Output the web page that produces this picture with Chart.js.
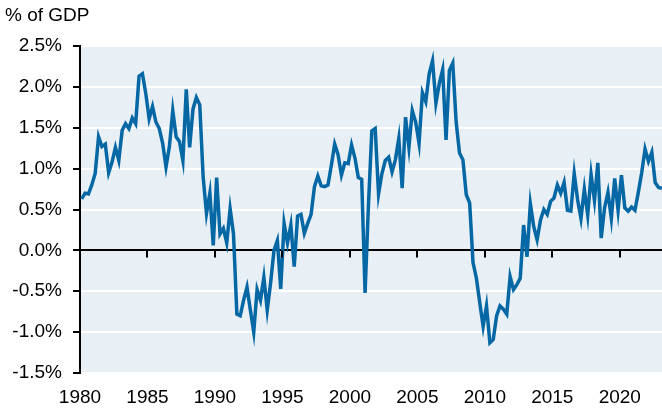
<!DOCTYPE html>
<html>
<head>
<meta charset="utf-8">
<script src="https://cdn.jsdelivr.net/npm/chart.js@4/dist/chart.umd.min.js"></script>
<style>
  html, body { margin: 0; padding: 0; background: #fff; }
  canvas { display: block; }
</style>
</head>
<body>
<canvas id="chart" width="662" height="409"></canvas>
<script>
// quarterly values, % of GDP, 1980Q1 onwards
const values = [
  0.63, 0.70, 0.69, 0.80, 0.94, 1.39, 1.27, 1.30, 0.95, 1.08, 1.26, 1.10,
  1.47, 1.55, 1.49, 1.62, 1.55, 2.13, 2.16, 1.92, 1.61, 1.76, 1.57, 1.49,
  1.31, 1.02, 1.27, 1.71, 1.39, 1.33, 1.10, 1.97, 1.26, 1.73, 1.87,
  1.78, 0.90, 0.45, 0.70, 0.06, 0.89, 0.20, 0.27, 0.09, 0.51, 0.20, -0.78,
  -0.80, -0.61, -0.45, -0.73, -1.00, -0.48, -0.61, -0.33, -0.73, -0.40, 0.00,
  0.12, -0.47, 0.33, 0.09, 0.31, -0.20, 0.42, 0.44, 0.21, 0.33, 0.44,
  0.78, 0.91, 0.79, 0.78, 0.80, 1.04, 1.30, 1.17, 0.92, 1.07, 1.06, 1.29,
  1.13, 0.89, 0.87, -0.52, 0.55, 1.46, 1.49, 0.69, 0.94, 1.10, 1.14, 0.96,
  1.11, 1.37, 0.76, 1.63, 1.26, 1.71, 1.57, 1.31, 1.93, 1.82,
  2.16, 2.32, 1.80, 2.04, 2.21, 1.35, 2.20, 2.29, 1.57, 1.19, 1.11, 0.68,
  0.58, -0.15, -0.34, -0.64, -0.93, -0.68, -1.13, -1.09, -0.80, -0.68, -0.72,
  -0.78, -0.32, -0.48, -0.42, -0.34, 0.31, -0.08, 0.57, 0.29, 0.13, 0.37, 0.50,
  0.44, 0.60, 0.64, 0.80, 0.70, 0.83, 0.49, 0.48, 0.94, 0.62, 0.39, 0.75,
  0.43, 0.93, 0.61, 1.07, 0.15, 0.52, 0.71, 0.39, 0.88, 0.49, 0.92, 0.52,
  0.48, 0.53, 0.49, 0.71, 0.95, 1.24, 1.09, 1.20, 0.83, 0.77, 0.76
]

// one entry per quarter, placed mid-quarter
const quarters = values.map((v, i) => 1980 + Math.floor(i / 4) + (i % 4) * 0.25 + 0.125)

const xTicks = [1980, 1985, 1990, 1995, 2000, 2005, 2010, 2015, 2020]
const yTicks = [-1.5, -1.0, -0.5, 0.0, 0.5, 1.0, 1.5, 2.0, 2.5]
const unitLabel = '% of GDP'

const FONT = "'Liberation Sans', Arial, sans-serif"

const plotBackground = {
  id: 'plotBackground',
  beforeDraw(chart) {
    const { ctx, chartArea: a } = chart
    ctx.save()
    ctx.fillStyle = '#e9f0f5'
    ctx.fillRect(a.left, a.top, a.right - a.left, a.bottom - a.top)
    ctx.restore()
  }
}

// small ticks hanging off the zero line, plus the unit label top left
const extras = {
  id: 'extras',
  afterDatasetsDraw(chart) {
    const { ctx, scales } = chart
    const y0 = scales.y.getPixelForValue(0)
    ctx.save()
    ctx.strokeStyle = '#000'
    ctx.lineWidth = 2
    xTicks.slice(1).forEach(t => {
      const x = Math.round(scales.x.getPixelForValue(t))
      ctx.beginPath()
      ctx.moveTo(x, y0)
      ctx.lineTo(x, y0 + 7)
      ctx.stroke()
    })
    ctx.fillStyle = '#000'
    ctx.font = '19px ' + FONT
    ctx.textBaseline = 'middle'
    ctx.fillText(unitLabel, 5, 16)
    ctx.restore()
  }
}

new Chart(document.getElementById('chart'), {
  type: 'line',
  data: {
    datasets: [{
      data: quarters.map((q, i) => ({ x: q, y: values[i] })),
      borderColor: '#0568a5',
      borderWidth: 3.5,
      pointRadius: 0,
      tension: 0,
      fill: false
    }]
  },
  options: {
    responsive: false,
    animation: false,
    devicePixelRatio: 1,
    layout: { padding: { top: 46, right: 0, bottom: 0, left: 0 } },
    plugins: {
      legend: { display: false },
      tooltip: { enabled: false }
    },
    scales: {
      x: {
        type: 'linear',
        min: 1980,
        max: 2023.13,
        afterBuildTicks: scale => { scale.ticks = xTicks.map(v => ({ value: v })) },
        afterFit: scale => { scale.height = 36 },
        grid: { display: false, drawTicks: false },
        border: { display: false },
        ticks: {
          color: '#000',
          font: { family: FONT, size: 19 },
          padding: 13,
          maxRotation: 0,
          autoSkip: false,
          callback: v => String(v)
        }
      },
      y: {
        min: -1.5,
        max: 2.5,
        afterBuildTicks: scale => { scale.ticks = yTicks.map(v => ({ value: v })) },
        afterFit: scale => { scale.width = 80 },
        grid: {
          color: ctx => (ctx.tick && ctx.tick.value === 0 ? '#000' : '#fff'),
          lineWidth: 2,
          tickColor: '#000',
          tickLength: 7
        },
        border: { color: '#000', width: 2 },
        ticks: {
          color: '#000',
          font: { family: FONT, size: 19 },
          padding: 11,
          callback: v => v.toFixed(1) + '%'
        }
      }
    }
  },
  plugins: [plotBackground, extras]
})
</script>
</body>
</html>
